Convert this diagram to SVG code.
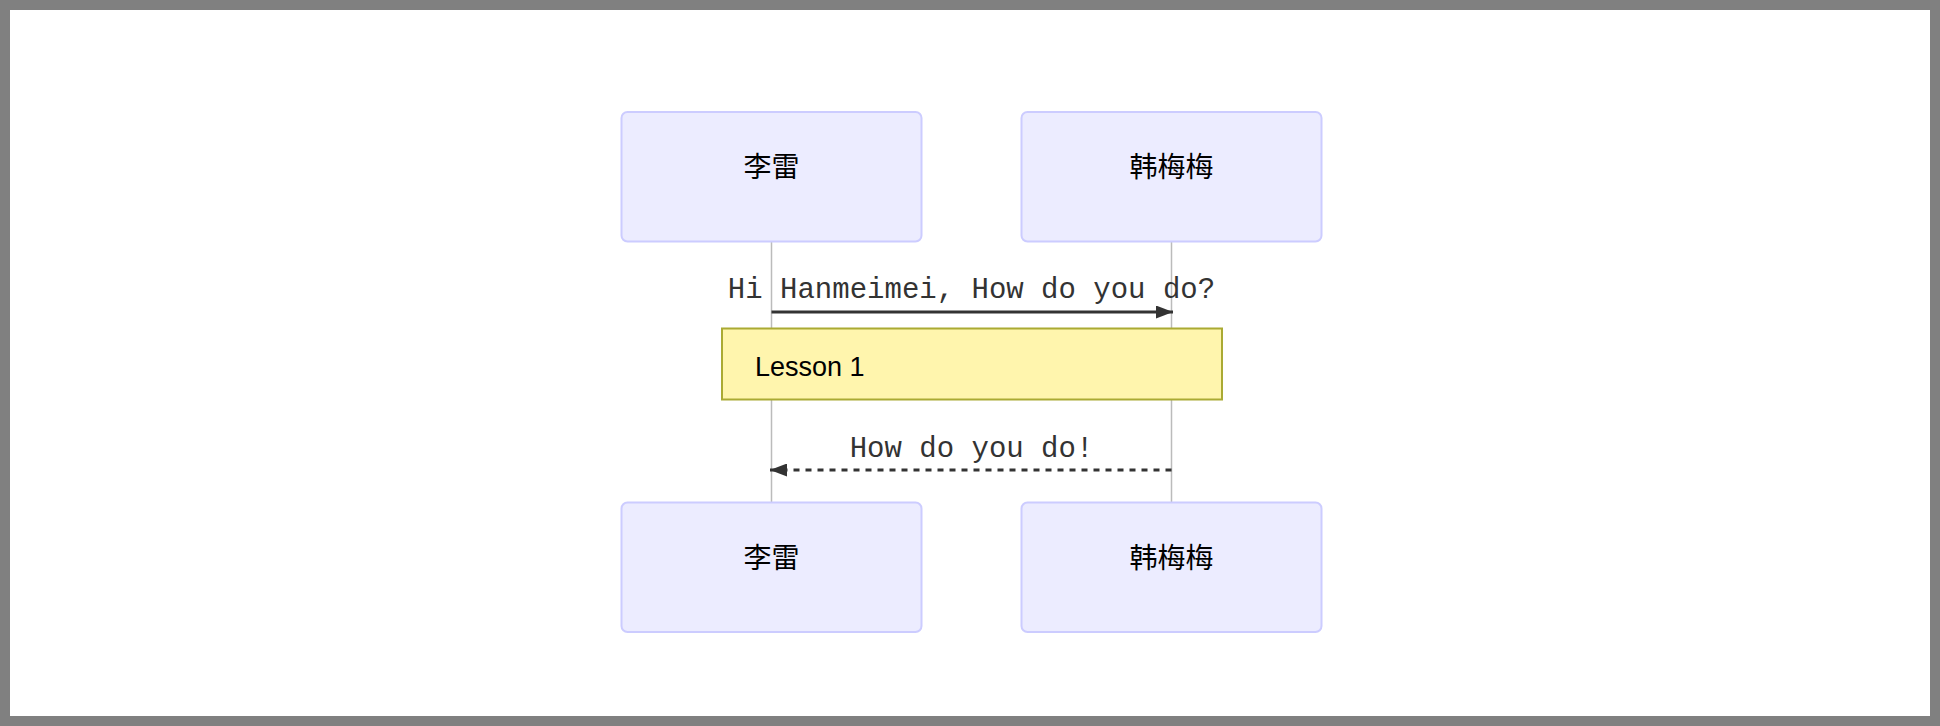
<svg xmlns="http://www.w3.org/2000/svg" width="1940" height="726" viewBox="0 0 1940 726">
<style>
.actor{fill:#ECECFF;stroke:#CCCCFF;stroke-width:2}
.actor-text{font-family:"Liberation Sans","Noto Sans CJK SC",sans-serif;font-size:28px;fill:#000;text-anchor:middle;dominant-baseline:central}
.lifeline{stroke:#bbbbbb;stroke-width:1.5}
.msg{stroke:#333;stroke-width:3;fill:none}
.msg-text{font-family:"Liberation Mono",monospace;font-size:29px;fill:#333;text-anchor:middle}
.note{fill:#fff5ad;stroke:#aaaa33;stroke-width:2}
.note-text{font-family:"Liberation Sans",Arial,sans-serif;font-size:27px;fill:#000}
</style>
<defs>
<marker id="arrowhead" markerWidth="17" markerHeight="13" refX="17" refY="6.5" orient="auto" markerUnits="userSpaceOnUse">
<path d="M0,0 L17,6.5 L0,13 Z" fill="#333"/>
</marker>
</defs>
<rect x="0" y="0" width="1940" height="726" fill="#808080"/>
<rect x="10" y="10" width="1920" height="706" fill="#ffffff"/>
<g id="lifelines">
<line class="lifeline" x1="771.5" y1="242" x2="771.5" y2="502"/>
<line class="lifeline" x1="1171.5" y1="242" x2="1171.5" y2="502"/>
</g>
<g id="actor-lilei-top">
<rect class="actor" x="621.5" y="112" width="300" height="129.5" rx="6" ry="6"/>
<text class="actor-text" x="771.5" y="167">李雷</text>
</g>
<g id="actor-hanmeimei-top">
<rect class="actor" x="1021.5" y="112" width="300" height="129.5" rx="6" ry="6"/>
<text class="actor-text" x="1171.5" y="167">韩梅梅</text>
</g>
<g id="note-lesson1">
<rect class="note" x="722" y="328.5" width="500" height="71"/>
<text class="note-text" x="755" y="376">Lesson 1</text>
</g>
<g id="connectors">
<line class="msg" x1="771.5" y1="312" x2="1173" y2="312" marker-end="url(#arrowhead)"/>
<text class="msg-text" x="971.5" y="298">Hi Hanmeimei, How do you do?</text>
<line class="msg" x1="1171.5" y1="470" x2="770" y2="470" stroke-dasharray="6,6" marker-end="url(#arrowhead)"/>
<text class="msg-text" x="971.5" y="457">How do you do!</text>
</g>
<g id="actor-lilei-bottom">
<rect class="actor" x="621.5" y="502.5" width="300" height="129.5" rx="6" ry="6"/>
<text class="actor-text" x="771.5" y="558">李雷</text>
</g>
<g id="actor-hanmeimei-bottom">
<rect class="actor" x="1021.5" y="502.5" width="300" height="129.5" rx="6" ry="6"/>
<text class="actor-text" x="1171.5" y="558">韩梅梅</text>
</g>
</svg>
